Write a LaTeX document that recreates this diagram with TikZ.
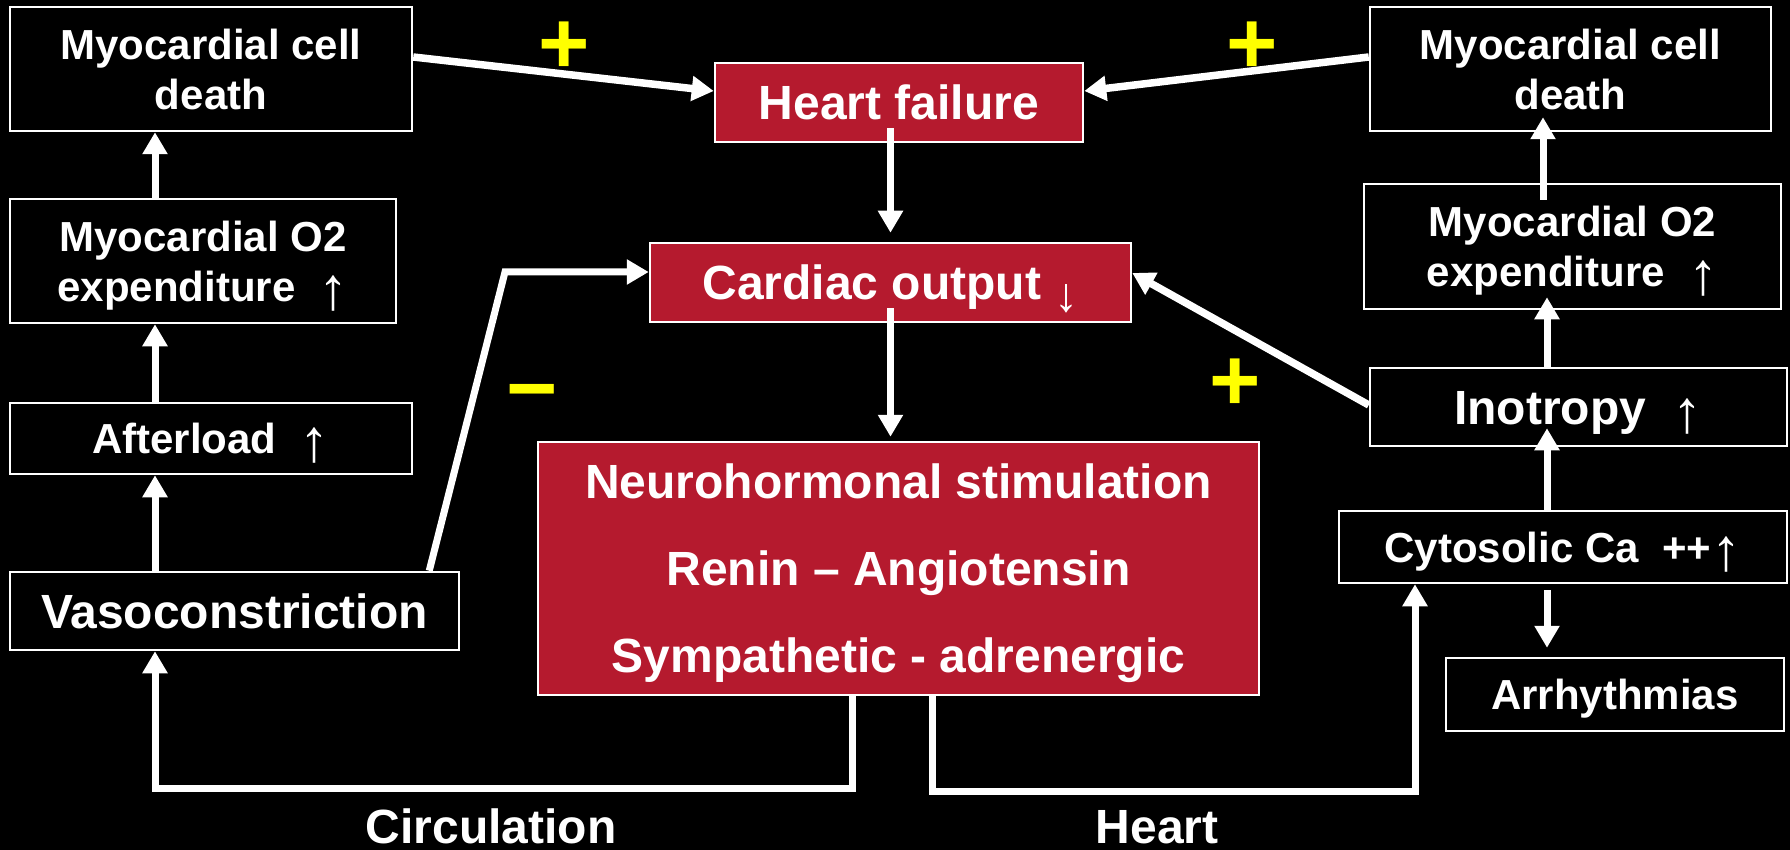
\documentclass[tikz,border=0pt]{standalone}
\usepackage{fontspec}
\setmainfont{Liberation Sans}
\usetikzlibrary{arrows.meta}
\definecolor{hfred}{RGB}{181,26,46}
\definecolor{signyellow}{RGB}{255,255,0}
\newcommand\uarr{\smash{\raisebox{-8pt}{\fontsize{60}{60}\selectfont\mdseries ↑}}}
\newcommand\darr{\smash{\raisebox{-12pt}{\mdseries ↓}}}
\newcommand\nodp[1]{\raisebox{0pt}[\height][0pt]{#1}}
\begin{document}
\begin{tikzpicture}[x=1pt,y=-1pt,
  box/.style={draw=white, line width=2.5pt, fill=black, text=white, align=center, inner sep=0pt, font=\bfseries\fontsize{42}{50}\selectfont},
  bigbox/.style={box, font=\bfseries\fontsize{48}{58}\selectfont},
  redbox/.style={bigbox, fill=hfred},
  sl/.style={text height=30pt, text depth=0pt},
  slb/.style={text height=34.4pt, text depth=0pt},
  arr/.style={draw=white, line width=7pt, -{Triangle[width=24pt,length=22pt]}},
  lbl/.style={text=white, font=\bfseries\fontsize{48}{58}\selectfont, inner sep=0pt, anchor=base},
  sign/.style={text=signyellow, font=\bfseries\fontsize{88}{88}\selectfont, inner sep=0pt}
]
\fill[black] (0,0) rectangle (1790,850);
\useasboundingbox (0,0) rectangle (1790,850);

% left column
\node[box, minimum width=402, minimum height=124] (L1) at (211,69) {Myocardial cell\\\nodp{death}};
\node[box, minimum width=386, minimum height=124] (L2) at (203,261) {Myocardial O2\\\nodp{expenditure\ \ \uarr}};
\node[box, sl, minimum width=402, minimum height=71] (L3) at (211,438.5) {Afterload\ \ \uarr};
\node[bigbox, slb, minimum width=449, minimum height=78] (Vaso) at (234.5,611) {Vasoconstriction};

% centre
\node[redbox, slb, minimum width=368, minimum height=79] (HF) at (899,102.5) {Heart failure};
\node[redbox, slb, minimum width=481, minimum height=79] (CO) at (890.5,282.5) {Cardiac output \darr};
\node[redbox, minimum width=721, minimum height=253, font=\bfseries\fontsize{48}{87}\selectfont] (NH) at (898.5,568.5) {Neurohormonal stimulation\\Renin – Angiotensin\\\nodp{Sympathetic - adrenergic}};

% right column
\node[box, minimum width=401, minimum height=124] (R1) at (1570.5,69) {Myocardial cell\\\nodp{death}};
\node[box, minimum width=417, minimum height=125] (R2) at (1572.5,246.5) {Myocardial O2\\\nodp{expenditure\ \ \uarr}};
\node[bigbox, slb, minimum width=417, minimum height=78] (Ino) at (1578.5,407) {Inotropy\ \ \uarr};
\node[box, sl, minimum width=448, minimum height=72] (Cyto) at (1563,547) {Cytosolic Ca\ \ ++\uarr};
\node[box, sl, minimum width=338, minimum height=73] (Arr) at (1615,694.5) {Arrhythmias};

% labels and signs
\node[lbl] (circ) at (491,843) {Circulation};
\node[lbl] (heart) at (1157,843) {Heart};
\node[sign] (p1) at (564,48) {+};
\node[sign] (p2) at (1252,48) {+};
\node[sign] (p3) at (1235,385) {+};
\node[sign] (m1) at (532,401) {−};

% helper coordinates
\coordinate (lx) at (155,0);
\coordinate (vb) at (505,272);
\coordinate (cb) at (852,788);
\coordinate (hb) at (932,791);
\coordinate (hx) at (1415,0);
\coordinate (rx) at (1547,0);
\coordinate (rxa) at (1543,0);

% connectors
\draw[arr, line width=7.5pt] ([yshift=12pt]L1.east) -- ([yshift=11.5pt]HF.west);
\draw[arr, line width=7.5pt] ([yshift=12pt]R1.west) -- ([yshift=11.5pt]HF.east);
\draw[arr, shorten <=-15pt, shorten >=9pt] (HF.south -| CO.north) -- (CO.north);
\draw[arr, shorten <=-15pt, shorten >=4pt] (CO.south) -- (CO.south |- NH.north);
\draw[arr] ([xshift=-31pt]Vaso.north east) -- (vb) -- (vb -| CO.west);
\draw[arr] (lx |- Vaso.north) -- (lx |- L3.south);
\draw[arr] (lx |- L3.north) -- (lx |- L2.south);
\draw[arr] (lx |- L2.north) -- (lx |- L1.south);
\draw[arr] (cb |- NH.south) -- (cb) -- (lx |- cb) -- (lx |- Vaso.south);
\draw[arr] (hb |- NH.south) -- (hb) -- (hx |- hb) -- (hx |- Cyto.south);
\draw[arr, shorten >=-19pt] (rx |- Cyto.north) -- (rx |- Ino.south);
\draw[arr, shorten >=-13pt] (rx |- Ino.north) -- (rx |- R2.south);
\draw[arr, shorten <=-17pt, shorten >=-15pt] (rxa |- R2.north) -- (rxa |- R1.south);
\draw[arr, shorten <=6pt, shorten >=9pt] (rx |- Cyto.south) -- (rx |- Arr.north);
\draw[arr, line width=7.5pt] ([yshift=2pt]Ino.west) -- ([yshift=9.5pt]CO.east);
\end{tikzpicture}
\end{document}
